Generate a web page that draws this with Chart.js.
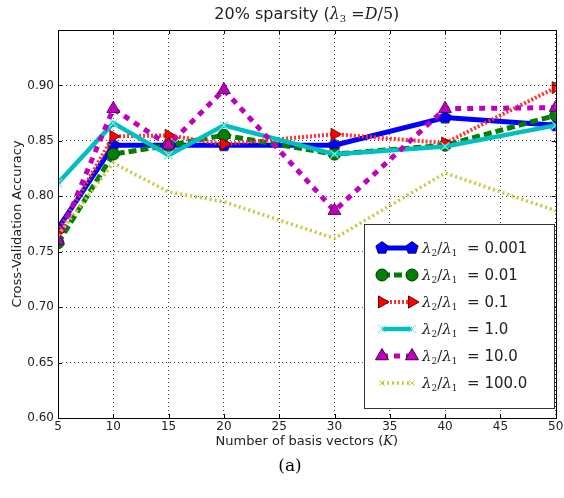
<!DOCTYPE html>
<html>
<head>
<meta charset="utf-8">
<script src="https://cdn.jsdelivr.net/npm/chart.js@4/dist/chart.umd.min.js"></script>
<style>
  body { margin: 0; background: #ffffff; }
  #chartCanvas { display: block; }
</style>
</head>
<body>
<canvas id="chartCanvas" width="564" height="498"></canvas>
<script>
"use strict";

// Data
const xValues = [5, 10, 15, 20, 30, 40, 50];
const ratioLabels = ["0.001", "0.01", "0.1", "1.0", "10.0", "100.0"];

const acc0001 = [0.771, 0.846, 0.846, 0.846, 0.846, 0.871, 0.864];
const acc001  = [0.758, 0.838, 0.846, 0.855, 0.838, 0.846, 0.873];
const acc01   = [0.768, 0.854, 0.855, 0.847, 0.856, 0.848, 0.898];
const acc1    = [0.812, 0.866, 0.837, 0.864, 0.838, 0.845, 0.864];
const acc10   = [0.760, 0.879, 0.846, 0.896, 0.787, 0.879, 0.880];
const acc100  = [0.765, 0.830, 0.804, 0.795, 0.762, 0.821, 0.787];

const xMin = 5, xMax = 50, xStep = 5;
const yMin = 0.60, yMax = 0.95, yStep = 0.05;

const sansFont = '"DejaVu Sans", Arial, sans-serif';
const serifFont = '"DejaVu Serif", "Liberation Serif", serif';

// Pentagon marker (no built-in pointStyle for it)
function makePentagon(r, fill) {
    const size = Math.ceil(2 * r + 3);
    const c = document.createElement("canvas");
    c.width = size;
    c.height = size;
    const g = c.getContext("2d");
    const cx = size / 2, cy = size / 2;
    g.beginPath();
    for (let i = 0; i < 5; i++) {
        const a = -Math.PI / 2 + i * 2 * Math.PI / 5;
        const px = cx + r * Math.cos(a);
        const py = cy + r * Math.sin(a);
        if (i == 0) g.moveTo(px, py); else g.lineTo(px, py);
    }
    g.closePath();
    g.fillStyle = fill;
    g.fill();
    g.lineWidth = 0.8;
    g.strokeStyle = "#000033";
    g.stroke();
    return c;
}

const pentagon = makePentagon(6.5, "#0000ff");

function toPoints(arr) {
    return arr.map((v, i) => ({x: xValues[i], y: v}));
}

const seriesStyles = [
    {data: acc0001, color: "#0000ff", width: 5, dash: [], marker: pentagon, radius: 6.5, rot: 0, fill: "#0000ff", edge: "#000033"},
    {data: acc001, color: "#007f00", width: 5, dash: [8, 4], marker: "circle", radius: 6, rot: 0, fill: "#007f00", edge: "#003300"},
    {data: acc01, color: "#ff3030", width: 4, dash: [2, 2], marker: "triangle", radius: 7, rot: 90, fill: "#ff0000", edge: "#660000"},
    {data: acc1, color: "#00bfbf", width: 4.5, dash: [], marker: "crossRot", radius: 6, rot: 0, fill: "#00bfbf", edge: "#7fe6e6"},
    {data: acc10, color: "#bf00bf", width: 5, dash: [6, 6], marker: "triangle", radius: 7.5, rot: 0, fill: "#bf00bf", edge: "#400040"},
    {data: acc100, color: "#c8c83a", width: 3.5, dash: [2, 3], marker: "circle", radius: 0, rot: 0, fill: "#c8c83a", edge: "#c8c83a"}
];

const datasets = seriesStyles.map((s, i) => ({
    label: "λ2/λ1 = " + ratioLabels[i],
    data: toPoints(s.data),
    order: seriesStyles.length - i,
    borderColor: s.color,
    borderWidth: s.width,
    borderDash: s.dash,
    borderCapStyle: "butt",
    tension: 0,
    fill: false,
    pointStyle: s.marker,
    pointRadius: s.radius,
    pointHoverRadius: s.radius,
    pointRotation: s.rot,
    pointBackgroundColor: s.fill,
    pointBorderColor: s.edge,
    pointBorderWidth: s.marker === "crossRot" ? 1.2 : 0.8
}));

// Draw a run of text pieces (font, offset) starting at x or centred on it
function drawRich(ctx, parts, x, y, align) {
    let total = 0;
    parts.forEach((p) => { ctx.font = p.font; total += ctx.measureText(p.t).width; });
    let cx = (align === "center") ? x - total / 2 : x;
    ctx.textBaseline = "alphabetic";
    ctx.textAlign = "left";
    parts.forEach((p) => {
        ctx.font = p.font;
        ctx.fillText(p.t, cx, y + (p.dy || 0));
        cx += ctx.measureText(p.t).width;
    });
}

function ratioParts(size, value) {
    const lam = "italic " + size + "px " + serifFont;
    const sub = Math.round(size * 0.62) + "px " + serifFont;
    const txt = size + "px " + sansFont;
    return [
        {t: "λ", font: lam},
        {t: "2", font: sub, dy: 3},
        {t: "/", font: size + "px " + serifFont},
        {t: "λ", font: lam},
        {t: "1", font: sub, dy: 3},
        {t: "  = " + value, font: txt}
    ];
}

// Frame, inward ticks, titles, caption and legend box
const decorPlugin = {
    id: "decor",
    afterDraw(chart) {
        const ctx = chart.ctx;
        const a = chart.chartArea;
        const xs = chart.scales.x;
        const ys = chart.scales.y;
        ctx.save();

        // axes frame
        ctx.setLineDash([]);
        ctx.strokeStyle = "#000000";
        ctx.lineWidth = 1;
        ctx.strokeRect(Math.round(a.left) + 0.5, Math.round(a.top) + 0.5,
            Math.round(a.right - a.left), Math.round(a.bottom - a.top));

        // inward tick marks on all four sides
        ctx.beginPath();
        for (let v = xMin; v <= xMax; v += xStep) {
            const px = Math.round(xs.getPixelForValue(v)) + 0.5;
            ctx.moveTo(px, a.bottom); ctx.lineTo(px, a.bottom - 4);
            ctx.moveTo(px, a.top); ctx.lineTo(px, a.top + 4);
        }
        for (let k = 0; k <= Math.round((yMax - yMin) / yStep); k++) {
            const py = Math.round(ys.getPixelForValue(yMin + k * yStep)) + 0.5;
            ctx.moveTo(a.left, py); ctx.lineTo(a.left + 4, py);
            ctx.moveTo(a.right, py); ctx.lineTo(a.right - 4, py);
        }
        ctx.stroke();

        ctx.fillStyle = "#222222";
        const mid = (a.left + a.right) / 2;

        // title
        drawRich(ctx, [
            {t: "20% sparsity (", font: "16px " + sansFont},
            {t: "λ", font: "italic 16px " + serifFont},
            {t: "3", font: "10px " + serifFont, dy: 3},
            {t: " =", font: "16px " + serifFont},
            {t: "D", font: "italic 16px " + serifFont},
            {t: "/5", font: "16px " + serifFont},
            {t: ")", font: "16px " + sansFont}
        ], mid, 19, "center");

        // x axis title
        drawRich(ctx, [
            {t: "Number of basis vectors (", font: "13px " + sansFont},
            {t: "K", font: "italic 13px " + serifFont},
            {t: ")", font: "13px " + sansFont}
        ], mid, 445, "center");

        // y axis title
        ctx.save();
        ctx.translate(21, (a.top + a.bottom) / 2);
        ctx.rotate(-Math.PI / 2);
        drawRich(ctx, [{t: "Cross-Validation Accuracy", font: "13px " + sansFont}], 0, 0, "center");
        ctx.restore();

        // caption
        ctx.fillStyle = "#000000";
        drawRich(ctx, [{t: "(a)", font: "17px " + serifFont}], 290, 471, "center");

        // legend
        const lx = 364, ly = 224, lw = 190, lh = 184;
        ctx.fillStyle = "#ffffff";
        ctx.fillRect(lx, ly, lw, lh);
        ctx.strokeStyle = "#333333";
        ctx.lineWidth = 1;
        ctx.strokeRect(lx + 0.5, ly + 0.5, lw, lh);

        seriesStyles.forEach((s, i) => {
            const rowY = 248 + i * 27;
            const x0 = 382, x1 = 412;
            ctx.save();
            ctx.strokeStyle = s.color;
            ctx.lineWidth = s.width;
            ctx.setLineDash(s.dash);
            ctx.beginPath();
            ctx.moveTo(x0, rowY);
            ctx.lineTo(x1, rowY);
            ctx.stroke();
            ctx.restore();

            const r = (s.radius > 0) ? s.radius : 4;
            const opts = {
                pointStyle: (s.radius > 0) ? s.marker : "crossRot",
                radius: r,
                rotation: s.rot,
                borderWidth: s.marker === "crossRot" || s.radius === 0 ? 1.2 : 0.8
            };
            ctx.save();
            ctx.fillStyle = s.fill;
            ctx.strokeStyle = s.edge;
            Chart.helpers.drawPoint(ctx, opts, x0, rowY);
            Chart.helpers.drawPoint(ctx, opts, x1, rowY);
            ctx.restore();

            ctx.fillStyle = "#222222";
            drawRich(ctx, ratioParts(15, ratioLabels[i]), 422, rowY + 5, "left");
        });

        ctx.restore();
    }
};

const config = {
    type: "line",
    data: {datasets: datasets},
    options: {
        responsive: false,
        animation: false,
        layout: {padding: {top: 30, right: 6, left: 0, bottom: 0}},
        plugins: {
            legend: {display: false},
            title: {display: false},
            tooltip: {enabled: false}
        },
        scales: {
            x: {
                type: "linear",
                min: xMin,
                max: xMax,
                ticks: {
                    stepSize: xStep,
                    color: "#222222",
                    font: {family: sansFont, size: 12},
                    padding: 2,
                    maxRotation: 0
                },
                grid: {color: "#444444", lineWidth: 1, drawTicks: false},
                border: {display: false, dash: [1, 3]},
                afterFit(scale) {
                    scale.height = 80;
                    scale.paddingLeft = 0;
                    scale.paddingRight = 0;
                }
            },
            y: {
                type: "linear",
                min: yMin,
                max: yMax,
                ticks: {
                    stepSize: yStep,
                    color: "#222222",
                    font: {family: sansFont, size: 12},
                    padding: 4,
                    callback: (v) => (Math.abs(v - yMax) < 1e-6) ? "" : Number(v).toFixed(2)
                },
                grid: {color: "#444444", lineWidth: 1, drawTicks: false},
                border: {display: false, dash: [1, 3]},
                afterFit(scale) {
                    scale.width = 58;
                    scale.paddingTop = 0;
                    scale.paddingBottom = 0;
                }
            }
        }
    },
    plugins: [decorPlugin]
};

const ctx = document.getElementById("chartCanvas").getContext("2d");
const chart = new Chart(ctx, config);
</script>
</body>
</html>
